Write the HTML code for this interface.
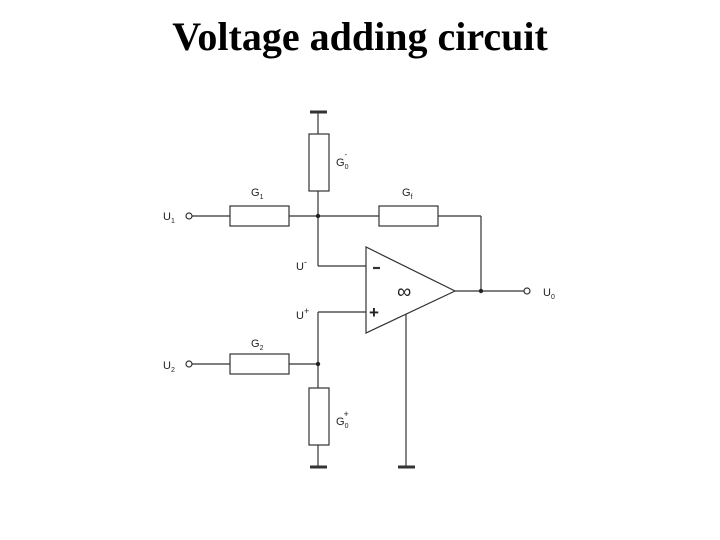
<!DOCTYPE html>
<html><head><style>
html,body{margin:0;padding:0;background:#fff;}
svg{display:block;}
</style></head><body>
<svg width="720" height="540" xmlns="http://www.w3.org/2000/svg">
<text x="360" y="50" text-anchor="middle" font-family="Liberation Serif, serif" font-weight="bold" font-size="40">Voltage adding circuit</text>
<g stroke="#333" stroke-width="1.2" fill="none">
<line x1="310" y1="112" x2="327" y2="112" stroke-width="3"/>
<line x1="318" y1="112" x2="318" y2="134"/>
<rect x="309" y="134" width="20" height="57" fill="#fff"/>
<line x1="318" y1="191" x2="318" y2="266"/>
<line x1="318" y1="266" x2="366" y2="266"/>
<line x1="192" y1="216" x2="230" y2="216"/>
<rect x="230" y="206" width="59" height="20"/>
<line x1="289" y1="216" x2="379" y2="216"/>
<rect x="379" y="206" width="59" height="20"/>
<line x1="438" y1="216" x2="481" y2="216"/>
<line x1="481" y1="216" x2="481" y2="291"/>
<circle cx="189" cy="216" r="3"/>
<polygon points="366,247 366,333 455,291"/>
<line x1="455" y1="291" x2="524" y2="291"/>
<circle cx="527" cy="291" r="3"/>
<line x1="406" y1="314" x2="406" y2="467"/>
<line x1="398" y1="467" x2="415" y2="467" stroke-width="3"/>
<line x1="318" y1="312" x2="366" y2="312"/>
<line x1="318" y1="312" x2="318" y2="388"/>
<line x1="192" y1="364" x2="230" y2="364"/>
<rect x="230" y="354" width="59" height="20"/>
<line x1="289" y1="364" x2="318" y2="364"/>
<circle cx="189" cy="364" r="3"/>
<rect x="309" y="388" width="20" height="57"/>
<line x1="318" y1="445" x2="318" y2="467"/>
<line x1="310" y1="467" x2="327" y2="467" stroke-width="3"/>
<line x1="373" y1="268" x2="380" y2="268" stroke-width="2.2"/>
</g>
<g fill="#222">
<circle cx="318" cy="216" r="2.2"/>
<circle cx="481" cy="291" r="2.2"/>
<circle cx="318" cy="364" r="2.2"/>
</g>
<g font-family="Liberation Sans, sans-serif" font-size="11" fill="#222">
<text x="163" y="220">U<tspan font-size="7" dy="3">1</tspan></text>
<text x="251" y="196">G<tspan font-size="7" dy="3">1</tspan></text>
<text x="336" y="166">G<tspan font-size="7" dy="3">0</tspan><tspan font-size="8" dx="-4" dy="-12">-</tspan></text>
<text x="402" y="196">G<tspan font-size="7" dy="3">f</tspan></text>
<text x="296" y="270">U<tspan font-size="9" dy="-5">-</tspan></text>
<text x="296" y="319">U<tspan font-size="9" dy="-5">+</tspan></text>
<text x="251" y="347">G<tspan font-size="7" dy="3">2</tspan></text>
<text x="163" y="369">U<tspan font-size="7" dy="3">2</tspan></text>
<text x="336" y="425">G<tspan font-size="7" dy="3">0</tspan><tspan font-size="9" dx="-5" dy="-11">+</tspan></text>
<text x="543" y="296">U<tspan font-size="7" dy="3">0</tspan></text>
<text x="369" y="318" font-size="17" font-weight="bold">+</text>
<text x="397" y="298" font-size="20">∞</text>
</g>
</svg>
</body></html>
